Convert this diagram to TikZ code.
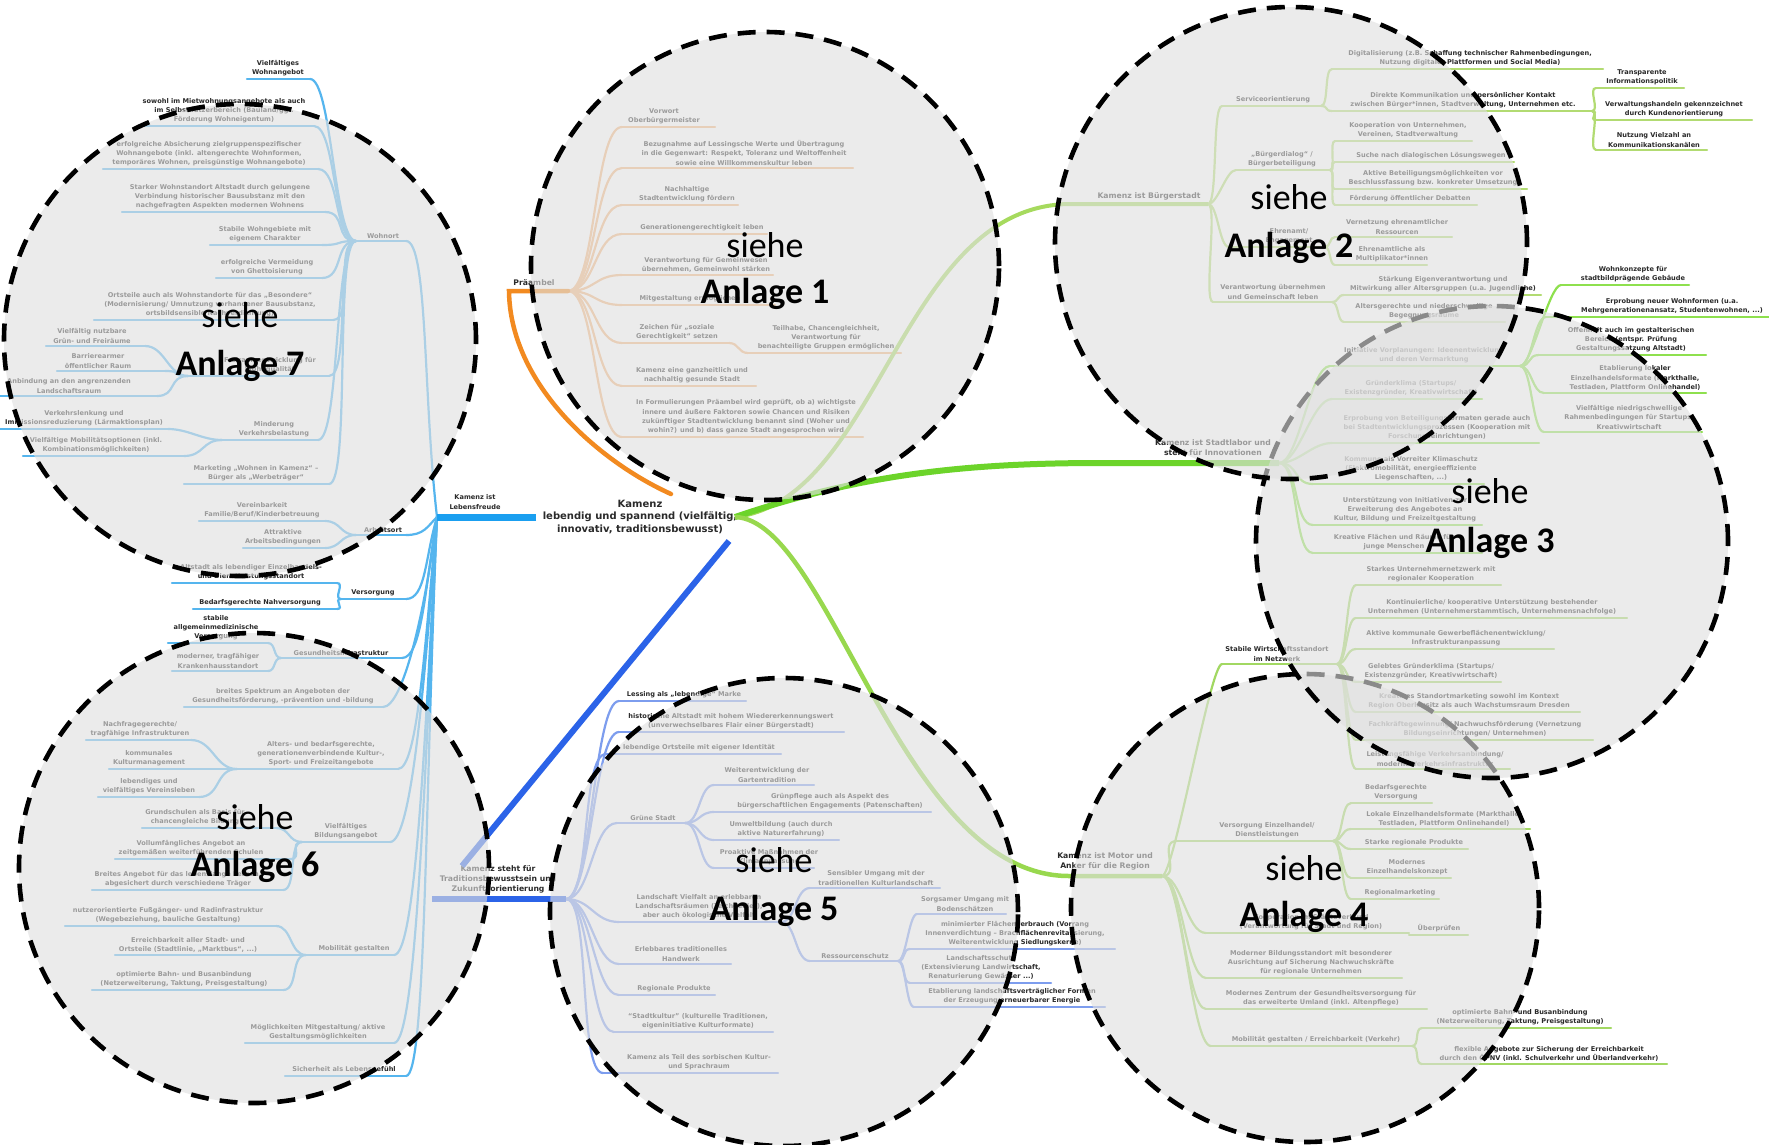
\documentclass[tikz,border=0pt]{standalone}
\usepackage{fontspec}
\setmainfont{DejaVu Sans}
\newfontfamily\carl{Carlito}
\definecolor{txt}{HTML}{2A2A2A}
\definecolor{blueT}{HTML}{1A9FF0}
\definecolor{blueL}{HTML}{55B5EE}
\definecolor{oraT}{HTML}{F28A20}
\definecolor{oraL}{HTML}{F5B47C}
\definecolor{greenB}{HTML}{A6DA5E}
\definecolor{greenS}{HTML}{6CD42A}
\definecolor{greenM}{HTML}{98D84E}
\definecolor{gOne}{HTML}{B2DB72}
\definecolor{gTwo}{HTML}{8EE04E}
\definecolor{gThree}{HTML}{A2D862}
\definecolor{blueD}{HTML}{2B63E8}
\definecolor{peri}{HTML}{7D9DEE}
\definecolor{ovc}{RGB}{224,224,224}
\tikzset{
  mmt/.style={font=\fontsize{6.6}{9.3}\selectfont\bfseries, text=txt, align=center, inner sep=0pt},
  mmh/.style={font=\fontsize{7.7}{10}\selectfont\bfseries, text=txt, align=center, inner sep=0pt},
  ctrs/.style={font=\fontsize{10}{12.5}\selectfont\bfseries, text=txt, align=center, inner sep=0pt},
  lb/.style={draw=blueL, line width=2.2pt, line cap=round},
  lo/.style={draw=oraL, line width=2.2pt, line cap=round},
  lp/.style={draw=peri, line width=2.2pt, line cap=round},
  g1/.style={draw=gOne, line width=2.2pt, line cap=round},
  g2/.style={draw=gTwo, line width=2.2pt, line cap=round},
  g3/.style={draw=gThree, line width=2.2pt, line cap=round},
  bT/.style={draw=blueT, line width=7pt},
  oT/.style={draw=oraT, line width=4.5pt, line cap=round},
  dT/.style={draw=blueD, line width=6pt},
  gB/.style={draw=greenB, line width=4pt},
  gS/.style={draw=greenS, line width=6pt},
  gM/.style={draw=greenM, line width=4.5pt},
  ovl/.style={fill=ovc, fill opacity=0.62},
  dsh/.style={draw=black, line width=4.6pt, dash pattern=on 18pt off 11pt},
  sh/.style={font=\carl\fontsize{36}{40}\selectfont, anchor=base, inner sep=0pt, text=black},
  an/.style={font=\carl\bfseries\fontsize{36}{40}\selectfont, anchor=base, inner sep=0pt, text=black}
}
\newcommand\mm[7]{%
  \coordinate (#1-l) at (#2,#4);
  \coordinate (#1-r) at (#3,#4);
  \draw[#5] (#1-l) -- (#1-r);
  \node[mmt,anchor=south] (#1) at (#6,#4-2.5) {#7};}
\newcommand\cn[4]{\draw[#1] (#2) .. controls +(#4,0) and +({-(#4)},0) .. (#3);}
\begin{document}
\begin{tikzpicture}[x=1pt,y=-1pt]
\useasboundingbox (0,0) rectangle (1769,1144);
\fill[white] (0,0) rectangle (1769,1144);

% ---------- centre ----------
\node[ctrs] (ctr) at (640,517) {Kamenz\\lebendig und spannend (vielfältig,\\innovativ, traditionsbewusst)};
\coordinate (ctL) at (536,517);
\coordinate (ctG) at (735,517);
\coordinate (ctO) at (671,494);
\coordinate (ctD) at (729,541);

% ---------- Präambel (orange) ----------
\node[mmh] (pra) at (534,283) {Präambel};
\coordinate (pra-l) at (509,291);
\coordinate (pra-r) at (568,291);
\mm{p1}{622}{715}{127}{lo}{664}{Vorwort\\Oberbürgermeister}
\mm{p2}{622}{853}{168}{lo}{744}{Bezugnahme auf Lessingsche Werte und Übertragung\\in die Gegenwart: Respekt, Toleranz und Weltoffenheit\\sowie eine Willkommenskultur leben}
\mm{p3}{622}{738}{205}{lo}{687}{Nachhaltige\\Stadtentwicklung fördern}
\mm{p4}{622}{767}{234}{lo}{702}{Generationengerechtigkeit leben}
\mm{p5}{622}{773}{275}{lo}{706}{Verantwortung für Gemeinwesen\\übernehmen, Gemeinwohl stärken}
\mm{p6}{622}{775}{305}{lo}{690}{Mitgestaltung ermöglichen}
\mm{p7}{622}{729}{343}{lo}{677}{Zeichen für „soziale\\Gerechtigkeit“ setzen}
\mm{p7a}{748}{901}{353}{lo}{826}{Teilhabe, Chancengleichheit,\\Verantwortung für\\benachteiligte Gruppen ermöglichen}
\mm{p8}{622}{756}{386}{lo}{692}{Kamenz eine ganzheitlich und\\nachhaltig gesunde Stadt}
\mm{p9}{622}{863}{437}{lo}{746}{In Formulierungen Präambel wird geprüft, ob a) wichtigste\\innere und äußere Faktoren sowie Chancen und Risiken\\zukünftiger Stadtentwicklung benannt sind (Woher und\\wohin?) und b) dass ganze Stadt angesprochen wird}
\foreach \c in {p1,p2,p3,p4,p5,p6,p7,p8,p9} {\cn{lo}{pra-r}{\c-l}{28}}
\cn{lo}{p7-r}{p7a-l}{10}
\draw[oT] (ctO) .. controls (600,462) and (510,385) .. (pra-l) -- (pra-r);

% ---------- Lebensfreude (blue) ----------
\node[mmt] (lf) at (475,502) {Kamenz ist\\Lebensfreude};
\coordinate (lfJ) at (437,517);
\mm{wo}{356}{406}{241}{lb}{383}{Wohnort}
\mm{w1}{247}{310}{79}{lb}{278}{Vielfältiges\\Wohnangebot}
\mm{w2}{145}{314}{126}{lb}{224}{sowohl im Mietwohnungsangebote als auch\\im Selbstnutzerbereich (Bauland/ggf.\\Förderung Wohneigentum)}
\mm{w3}{103}{318}{169}{lb}{209}{erfolgreiche Absicherung zielgruppenspezifischer\\Wohnangebote (inkl. altengerechte Wohnformen,\\temporäres Wohnen, preisgünstige Wohnangebote)}
\mm{w4}{122}{325}{212}{lb}{220}{Starker Wohnstandort Altstadt durch gelungene\\Verbindung historischer Bausubstanz mit den\\nachgefragten Aspekten modernen Wohnens}
\mm{w5}{210}{322}{245}{lb}{265}{Stabile Wohngebiete mit\\eigenem Charakter}
\mm{w6}{216}{322}{278}{lb}{267}{erfolgreiche Vermeidung\\von Ghettoisierung}
\mm{w7}{94}{333}{320}{lb}{210}{Ortsteile auch als Wohnstandorte für das „Besondere“\\(Modernisierung/ Umnutzung vorhandener Bausubstanz,\\ortsbildsensible Nachverdichtung)}
\mm{w8}{188}{329}{376}{lb}{270}{Freiraumentwicklung für\\Wohnqualität}
\mm{w8a}{46}{145}{346}{lb}{92}{Vielfältig nutzbare\\Grün- und Freiräume}
\mm{w8b}{57}{165}{371}{lb}{98}{Barrierearmer\\öffentlicher Raum}
\mm{w8c}{0}{157}{396}{lb}{69}{Anbindung an den angrenzenden\\Landschaftsraum}
\mm{w9}{222}{318}{440}{lb}{274}{Minderung\\Verkehrsbelastung}
\mm{w9a}{0}{168}{429}{lb}{84}{Verkehrslenkung und\\Immissionsreduzierung (Lärmaktionsplan)}
\mm{w9b}{23}{184}{456}{lb}{96}{Vielfältige Mobilitätsoptionen (inkl.\\Kombinationsmöglichkeiten)}
\mm{w10}{184}{329}{484}{lb}{256}{Marketing „Wohnen in Kamenz“ –\\Bürger als „Werbeträger“}
\foreach \c in {w1,w2,w3,w4,w5,w6,w7,w8,w9,w10} {\cn{lb}{wo-l}{\c-r}{-22}}
\foreach \c in {w8a,w8b,w8c} {\cn{lb}{w8-l}{\c-r}{-20}}
\foreach \c in {w9a,w9b} {\cn{lb}{w9-l}{\c-r}{-20}}
\draw[lb] (lfJ) .. controls +(-14,-120) and +(22,0) .. (wo-r);

\mm{ar}{356}{406}{535}{lb}{383}{Arbeitsort}
\mm{ar1}{199}{325}{521}{lb}{262}{Vereinbarkeit\\Familie/Beruf/Kinderbetreuung}
\mm{ar2}{243}{325}{548}{lb}{283}{Attraktive\\Arbeitsbedingungen}
\foreach \c in {ar1,ar2} {\cn{lb}{ar-l}{\c-r}{-16}}
\draw[lb] (lfJ) .. controls +(-10,10) and +(18,0) .. (ar-r);

\mm{ve}{341}{406}{599}{lb}{373}{Versorgung}
\mm{ve1}{172}{337}{583}{lb}{251}{Altstadt als lebendiger Einzelhandels-\\und Dienstleistungsstandort}
\mm{ve2}{193}{337}{609}{lb}{260}{Bedarfsgerechte Nahversorgung}
\foreach \c in {ve1,ve2} {\cn{lb}{ve-l}{\c-r}{-8}}
\mm{gi}{281}{402}{658}{lb}{341}{Gesundheitsinfrastruktur}
\mm{gi1}{168}{268}{643}{lb}{216}{stabile\\allgemeinmedizinische\\Versorgung}
\mm{gi2}{172}{268}{671}{lb}{218}{moderner, tragfähiger\\Krankenhausstandort}
\foreach \c in {gi1,gi2} {\cn{lb}{gi-l}{\c-r}{-8}}
\mm{bsp}{184}{383}{707}{lb}{283}{breites Spektrum an Angeboten der\\Gesundheitsförderung, -prävention und -bildung}
\mm{ak}{237}{398}{769}{lb}{321}{Alters- und bedarfsgerechte,\\generationenverbindende Kultur-,\\Sport- und Freizeitangebote}
\mm{ak1}{86}{191}{740}{lb}{140}{Nachfragegerechte/\\tragfähige Infrastrukturen}
\mm{ak2}{109}{230}{769}{lb}{149}{kommunales\\Kulturmanagement}
\mm{ak3}{98}{199}{797}{lb}{149}{lebendiges und\\vielfältiges Vereinsleben}
\foreach \c in {ak1,ak2,ak3} {\cn{lb}{ak-l}{\c-r}{-22}}
\mm{bi}{302}{390}{842}{lb}{346}{Vielfältiges\\Bildungsangebot}
\mm{bi1}{142}{276}{828}{lb}{195}{Grundschulen als Basis für\\chancengleiche Bildung}
\mm{bi2}{115}{290}{859}{lb}{191}{Vollumfängliches Angebot an\\zeitgemäßen weiterführenden Schulen}
\mm{bi3}{92}{283}{890}{lb}{178}{Breites Angebot für das lebenslange Lernen,\\abgesichert durch verschiedene Träger}
\foreach \c in {bi1,bi2,bi3} {\cn{lb}{bi-l}{\c-r}{-14}}
\mm{mo}{306}{394}{955}{lb}{354}{Mobilität gestalten}
\mm{mo1}{65}{276}{926}{lb}{168}{nutzerorientierte Fußgänger- und Radinfrastruktur\\(Wegebeziehung, bauliche Gestaltung)}
\mm{mo2}{115}{300}{955}{lb}{188}{Erreichbarkeit aller Stadt- und\\Ortsteile (Stadtlinie, „Marktbus“, ...)}
\mm{mo3}{92}{283}{990}{lb}{184}{optimierte Bahn- und Busanbindung\\(Netzerweiterung, Taktung, Preisgestaltung)}
\foreach \c in {mo1,mo2,mo3} {\cn{lb}{mo-l}{\c-r}{-16}}
\mm{mg}{245}{394}{1043}{lb}{318}{Möglichkeiten Mitgestaltung/ aktive\\Gestaltungsmöglichkeiten}
\mm{si}{285}{406}{1076}{lb}{344}{Sicherheit als Lebensgefühl}
\draw[lb] (lfJ) .. controls +(-12,40) and +(20,0) .. (ve-r);
\draw[lb] (lfJ) .. controls +(-12,70) and +(20,0) .. (gi-r);
\draw[lb] (lfJ) .. controls +(-12,95) and +(20,0) .. (bsp-r);
\draw[lb] (lfJ) .. controls +(-12,125) and +(20,0) .. (ak-r);
\draw[lb] (lfJ) .. controls +(-12,160) and +(22,0) .. (bi-r);
\draw[lb] (lfJ) .. controls +(-12,220) and +(22,0) .. (mo-r);
\draw[lb] (lfJ) .. controls +(-12,260) and +(22,0) .. (mg-r);
\draw[lb] (lfJ) .. controls +(-12,280) and +(20,0) .. (si-r);
\draw[bT] (ctL) -- (lfJ);

% ---------- Tradition (dark blue) ----------
\node[mmh] (kt) at (498,879) {Kamenz steht für\\Traditionsbewusstsein und\\Zukunftsorientierung};
\coordinate (kt-l) at (432,899);
\coordinate (kt-r) at (566,899);
\coordinate (ktin) at (462,866);
\mm{t1}{619}{746}{701}{lp}{684}{Lessing als „lebendige“ Marke}
\mm{t2}{619}{844}{732}{lp}{731}{historische Altstadt mit hohem Wiedererkennungswert\\(unverwechselbares Flair einer Bürgerstadt)}
\mm{t3}{606}{781}{754}{lp}{699}{lebendige Ortsteile mit eigener Identität}
\mm{t4}{617}{685}{823}{lp}{653}{Grüne Stadt}
\mm{t4a}{714}{814}{785}{lp}{767}{Weiterentwicklung der\\Gartentradition}
\mm{t4b}{714}{931}{812}{lp}{830}{Grünpflege auch als Aspekt des\\bürgerschaftlichen Engagements (Patenschaften)}
\mm{t4c}{714}{839}{840}{lp}{781}{Umweltbildung (auch durch\\aktive Naturerfahrung)}
\mm{t4d}{714}{814}{868}{lp}{769}{Proaktive Maßnahmen der\\Klimaanpassung}
\mm{t5}{619}{781}{922}{lp}{699}{Landschaft Vielfalt an erlebbaren\\Landschaftsräumen (Teichgebiet),\\aber auch ökologische Vielfalt}
\mm{t5a}{810}{940}{888}{lp}{876}{Sensibler Umgang mit der\\traditionellen Kulturlandschaft}
\mm{t5b}{810}{898}{961}{lp}{855}{Ressourcenschutz}
\mm{t5b1}{917}{1006}{914}{lp}{965}{Sorgsamer Umgang mit\\Bodenschätzen}
\mm{t5b2}{910}{1115}{949}{lp}{1015}{minimierter Flächenverbrauch (Vorrang\\Innenverdichtung – Brachflächenrevitalisierung,\\Weiterentwicklung Siedlungskerne)}
\mm{t5b3}{910}{1051}{983}{lp}{981}{Landschaftsschutz\\(Extensivierung Landwirtschaft,\\Renaturierung Gewässer ...)}
\mm{t5b4}{914}{1105}{1007}{lp}{1012}{Etablierung landschaftsverträglicher Formen\\der Erzeugung erneuerbarer Energie}
\mm{t6}{619}{731}{964}{lp}{681}{Erlebbares traditionelles\\Handwerk}
\mm{t7}{619}{715}{995}{lp}{674}{Regionale Produkte}
\mm{t8}{614}{773}{1032}{lp}{698}{“Stadtkultur” (kulturelle Traditionen,\\eigeninitiative Kulturformate)}
\mm{t9}{603}{778}{1073}{lp}{699}{Kamenz als Teil des sorbischen Kultur-\\und Sprachraum}
\foreach \c in {t1,t2,t3,t4,t5,t6,t7,t8,t9} {\cn{lp}{kt-r}{\c-l}{25}}
\foreach \c in {t4a,t4b,t4c,t4d} {\cn{lp}{t4-r}{\c-l}{15}}
\foreach \c in {t5a,t5b} {\cn{lp}{t5-r}{\c-l}{15}}
\foreach \c in {t5b1,t5b2,t5b3,t5b4} {\cn{lp}{t5b-r}{\c-l}{8}}
\draw[dT] (kt-l) -- (kt-r);
\draw[dT] (ctD) -- (ktin);

% ---------- Bürgerstadt (green) ----------
\node[mmh] (bgs) at (1149,196) {Kamenz ist Bürgerstadt};
\coordinate (bgsl) at (1070,204);
\coordinate (bgsr) at (1208,204);
\mm{sv}{1222}{1321}{106}{g1}{1273}{Serviceorientierung}
\mm{sv1}{1332}{1603}{69}{g1}{1470}{Digitalisierung (z.B. Schaffung technischer Rahmenbedingungen,\\Nutzung digitaler Plattformen und Social Media)}
\mm{sv2}{1332}{1592}{111}{g1}{1463}{Direkte Kommunikation und persönlicher Kontakt\\zwischen Bürger*innen, Stadtverwaltung, Unternehmen etc.}
\mm{sv2a}{1596}{1684}{88}{g1}{1642}{Transparente\\Informationspolitik}
\mm{sv2b}{1596}{1752}{120}{g1}{1674}{Verwaltungshandeln gekennzeichnet\\durch Kundenorientierung}
\mm{sv2c}{1596}{1707}{150}{g1}{1654}{Nutzung Vielzahl an\\Kommunikationskanälen}
\mm{bd}{1236}{1330}{170}{g1}{1282}{„Bürgerdialog“ /\\Bürgerbeteiligung}
\mm{bd1}{1335}{1472}{141}{g1}{1408}{Kooperation von Unternehmen,\\Vereinen, Stadtverwaltung}
\mm{bd2}{1335}{1514}{162}{g1}{1431}{Suche nach dialogischen Lösungswegen}
\mm{bd3}{1335}{1527}{189}{g1}{1433}{Aktive Beteiligungsmöglichkeiten vor\\Beschlussfassung bzw. konkreter Umsetzung}
\mm{bd4}{1335}{1477}{205}{g1}{1410}{Förderung öffentlicher Debatten}
\mm{ea}{1229}{1325}{247}{g1}{1289}{Ehrenamt/\\Engagement}
\mm{ea1}{1335}{1452}{237}{g1}{1397}{Vernetzung ehrenamtlicher\\Ressourcen}
\mm{ea2}{1335}{1427}{265}{g1}{1392}{Ehrenamtliche als\\Multiplikator*innen}
\mm{vu}{1213}{1332}{302}{g1}{1273}{Verantwortung übernehmen\\und Gemeinschaft leben}
\mm{vu1}{1344}{1541}{295}{g1}{1443}{Stärkung Eigenverantwortung und\\Mitwirkung aller Altersgruppen (u.a. Jugendliche)}
\mm{vu2}{1344}{1505}{322}{g1}{1424}{Altersgerechte und niederschwellige\\Begegnungsräume}
\foreach \c in {sv,bd,ea,vu} {\cn{g1}{bgsr}{\c-l}{10}}
\foreach \c in {sv1,sv2} {\cn{g1}{sv-r}{\c-l}{8}}
\foreach \c in {sv2a,sv2b,sv2c} {\cn{g1}{sv2-r}{\c-l}{8}}
\foreach \c in {bd1,bd2,bd3,bd4} {\cn{g1}{bd-r}{\c-l}{6}}
\foreach \c in {ea1,ea2} {\cn{g1}{ea-r}{\c-l}{6}}
\foreach \c in {vu1,vu2} {\cn{g1}{vu-r}{\c-l}{7}}
\draw[gB] (ctG) .. controls (880,500) and (900,205) .. (bgsl) -- (bgsr);

% ---------- Stadtlabor (green) ----------
\node[mmh] (sl) at (1213,448) {Kamenz ist Stadtlabor und\\steht für Innovationen};
\coordinate (slr) at (1279,463);
\mm{sl1}{1330}{1520}{366}{g2}{1424}{Initiative Vorplanungen: Ideenentwicklung\\und deren Vermarktung}
\mm{sl1a}{1561}{1689}{285}{g2}{1633}{Wohnkonzepte für\\stadtbildprägende Gebäude}
\mm{sl1b}{1546}{1769}{317}{g2}{1672}{Erprobung neuer Wohnformen (u.a.\\Mehrgenerationenansatz, Studentenwohnen, ...)}
\mm{sl1c}{1539}{1706}{355}{g2}{1631}{Offenheit auch im gestalterischen\\Bereich (entspr. Prüfung\\Gestaltungssatzung Altstadt)}
\mm{sl1d}{1544}{1706}{393}{g2}{1635}{Etablierung lokaler\\Einzelhandelsformate (Markthalle,\\Testladen, Plattform Onlinehandel)}
\mm{sl1e}{1544}{1702}{432}{g2}{1629}{Vielfältige niedrigschwellige\\Rahmenbedingungen für Startups/\\Kreativwirtschaft}
\mm{sl2}{1332}{1482}{399}{g2}{1411}{Gründerklima (Startups/\\Existenzgründer, Kreativwirtschaft)}
\mm{sl3}{1332}{1539}{443}{g2}{1437}{Erprobung von Beteiligungsformaten gerade auch\\bei Stadtentwicklungsprozessen (Kooperation mit\\Forschungseinrichtungen)}
\mm{sl4}{1313}{1484}{484}{g2}{1411}{Kommune als Vorreiter Klimaschutz\\(Elektromobilität, energieeffiziente\\Liegenschaften, ...)}
\mm{sl5}{1313}{1482}{525}{g2}{1405}{Unterstützung von Initiativen zur\\Erweiterung des Angebotes an\\Kultur, Bildung und Freizeitgestaltung}
\mm{sl6}{1313}{1482}{553}{g2}{1394}{Kreative Flächen und Räume für\\junge Menschen}
\foreach \c in {sl1,sl2,sl3,sl4,sl5,sl6} {\cn{g2}{slr}{\c-l}{20}}
\foreach \c in {sl1a,sl1b,sl1c,sl1d,sl1e} {\cn{g2}{sl1-r}{\c-l}{12}}
\draw[gS] (ctG) .. controls (850,478) and (950,463) .. (1100,463) -- (slr);

% ---------- Motor (green) ----------
\node[mmh] (mt) at (1105,861) {Kamenz ist Motor und\\Anker für die Region};
\coordinate (mtl) at (1069,876);
\coordinate (mtr) at (1162,876);
\mm{ws}{1222}{1337}{664}{g3}{1277}{Stabile Wirtschaftsstandort\\im Netzwerk}
\mm{ws1}{1356}{1501}{585}{g3}{1431}{Starkes Unternehmernetzwerk mit\\regionaler Kooperation}
\mm{ws2}{1356}{1627}{618}{g3}{1492}{Kontinuierliche/ kooperative Unterstützung bestehender\\Unternehmen (Unternehmerstammtisch, Unternehmensnachfolge)}
\mm{ws3}{1356}{1554}{649}{g3}{1456}{Aktive kommunale Gewerbeflächenentwicklung/\\Infrastrukturanpassung}
\mm{ws4}{1356}{1501}{682}{g3}{1431}{Gelebtes Gründerklima (Startups/\\Existenzgründer, Kreativwirtschaft)}
\mm{ws5}{1356}{1580}{712}{g3}{1469}{Kreatives Standortmarketing sowohl im Kontext\\Region Oberlausitz als auch Wachstumsraum Dresden}
\mm{ws6}{1356}{1593}{740}{g3}{1475}{Fachkräftegewinnung/ Nachwuchsförderung (Vernetzung\\Bildungseinrichtungen/ Unternehmen)}
\mm{ws7}{1356}{1510}{769}{g3}{1435}{Leistungsfähige Verkehrsanbindung/\\moderne Verkehrsinfrastruktur}
\mm{vz}{1177}{1333}{841}{g3}{1267}{Versorgung Einzelhandel/\\Dienstleistungen}
\mm{vza}{1351}{1432}{803}{g3}{1396}{Bedarfsgerechte\\Versorgung}
\mm{vzb}{1351}{1530}{829}{g3}{1444}{Lokale Einzelhandelsformate (Markthalle,\\Testladen, Plattform Onlinehandel)}
\mm{vzc}{1351}{1468}{849}{g3}{1414}{Starke regionale Produkte}
\mm{vzd}{1351}{1451}{878}{g3}{1407}{Modernes\\Einzelhandelskonzept}
\mm{vze}{1351}{1439}{899}{g3}{1400}{Regionalmarketing}
\mm{zr}{1206}{1409}{933}{g3}{1311}{Kooperation im Städteverbund\\(Verantwortung für Stadt und Region)}
\mm{zr1}{1409}{1468}{935}{g3}{1439}{Überprüfen}
\mm{mb}{1206}{1402}{978}{g3}{1311}{Moderner Bildungsstandort mit besonderer\\Ausrichtung auf Sicherung Nachwuchskräfte\\für regionale Unternehmen}
\mm{mz}{1206}{1427}{1009}{g3}{1321}{Modernes Zentrum der Gesundheitsversorgung für\\das erweiterte Umland (inkl. Altenpflege)}
\mm{mgv}{1211}{1412}{1046}{g3}{1316}{Mobilität gestalten / Erreichbarkeit (Verkehr)}
\mm{mgv1}{1422}{1611}{1028}{g3}{1520}{optimierte Bahn- und Busanbindung\\(Netzerweiterung, Taktung, Preisgestaltung)}
\mm{mgv2}{1422}{1667}{1064}{g3}{1549}{flexible Angebote zur Sicherung der Erreichbarkeit\\durch den ÖPNV (inkl. Schulverkehr und Überlandverkehr)}
\cn{g3}{mtr}{ws-l}{12}
\foreach \c in {vz,zr,mb,mz,mgv} {\cn{g3}{mtr}{\c-l}{20}}
\foreach \c in {ws1,ws2,ws3,ws4,ws5,ws6,ws7} {\cn{g3}{ws-r}{\c-l}{10}}
\foreach \c in {vza,vzb,vzc,vzd,vze} {\cn{g3}{vz-r}{\c-l}{10}}
\foreach \c in {mgv1,mgv2} {\cn{g3}{mgv-r}{\c-l}{8}}
\draw[gM] (ctG) .. controls (830,520) and (900,876) .. (mtl) -- (mtr);

% ---------- circles ----------
\coordinate (c1) at (765,266);
\coordinate (c2) at (1291,243);
\coordinate (c3) at (1492,542);
\coordinate (c4) at (1305,908);
\coordinate (c5) at (784,912);
\coordinate (c6) at (254,868);
\coordinate (c7) at (240,340);
\foreach \c/\r in {c4/234,c3/236,c2/236,c1/234,c5/234,c6/235,c7/236} {
  \fill[ovl] (\c) circle[radius=\r pt];
  \draw[dsh] (\c) circle[radius=\r pt];
}
\node[sh] (s1) at (765,257) {siehe};
\node[an] (a1) at (765,303) {Anlage 1};
\node[sh] (s2) at (1289,209) {siehe};
\node[an] (a2) at (1289,257) {Anlage 2};
\node[sh] (s3) at (1490,503) {siehe};
\node[an] (a3) at (1490,552) {Anlage 3};
\node[sh] (s4) at (1304,880) {siehe};
\node[an] (a4) at (1304,926) {Anlage 4};
\node[sh] (s5) at (774,872) {siehe};
\node[an] (a5) at (774,920) {Anlage 5};
\node[sh] (s6) at (255,829) {siehe};
\node[an] (a6) at (255,876) {Anlage 6};
\node[sh] (s7) at (240,327) {siehe};
\node[an] (a7) at (240,375) {Anlage 7};
\end{tikzpicture}
\end{document}
